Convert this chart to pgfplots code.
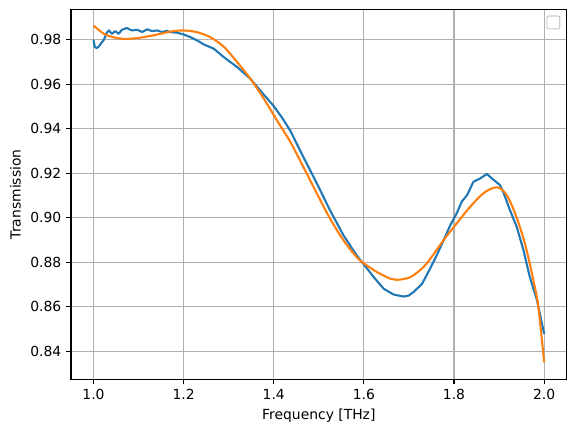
\documentclass[border=0pt]{standalone}
\usepackage{pgfplots}
\pgfplotsset{compat=1.18}
\usepackage{fontspec}
\setmainfont{DejaVu Sans}
\definecolor{C0}{HTML}{1F77B4}
\definecolor{C1}{HTML}{FF7F0E}
\definecolor{gridc}{HTML}{B0B0B0}
\begin{document}
\begin{tikzpicture}
\begin{axis}[
  scale only axis, width=356.9pt, height=266.4pt,
  at={(0,0)}, anchor=south west,
  xmin=0.95, xmax=2.05, ymin=0.8274, ymax=0.9937,
  xtick={1.0,1.2,1.4,1.6,1.8,2.0},
  ytick={0.84,0.86,0.88,0.90,0.92,0.94,0.96,0.98},
  xticklabel style={/pgf/number format/.cd,fixed,fixed zerofill,precision=1},
  yticklabel style={/pgf/number format/.cd,fixed,fixed zerofill,precision=2},
  /pgf/number format/assume math mode=true,
  tick label style={font=\fontsize{10}{12}\selectfont},
  label style={font=\fontsize{10}{12}\selectfont},
  xlabel={Frequency [THz]}, ylabel={Transmission},
  grid=major, major grid style={gridc, line width=0.8pt},
  axis line style={line width=0.8pt},
  tick style={black, line width=0.8pt},
  tick align=outside, major tick length=3.5pt,
  xtick pos=bottom, ytick pos=left,
  scaled ticks=false,
]
\addplot[C0, line width=1.5pt, line join=round] coordinates {
(1.000,0.9800)(1.003,0.9767)(1.007,0.9763)(1.012,0.9770)(1.016,0.9782)
(1.023,0.9800)(1.029,0.9830)(1.034,0.9842)(1.041,0.9827)(1.048,0.9839)
(1.056,0.9827)(1.063,0.9845)(1.074,0.9853)(1.085,0.9842)(1.097,0.9845)
(1.108,0.9835)(1.119,0.9847)(1.130,0.9839)(1.141,0.9842)(1.152,0.9835)
(1.163,0.9840)(1.171,0.9834)(1.185,0.9832)(1.200,0.9824)(1.215,0.9812)
(1.230,0.9797)(1.245,0.9779)(1.267,0.9760)(1.289,0.9722)(1.319,0.9677)
(1.348,0.9625)(1.370,0.9572)(1.400,0.9502)(1.420,0.9445)(1.437,0.9390)
(1.466,0.9272)(1.496,0.9153)(1.525,0.9033)(1.555,0.8920)(1.584,0.8831)
(1.600,0.8790)(1.622,0.8733)(1.644,0.8681)(1.666,0.8655)(1.688,0.8646)
(1.699,0.8650)(1.710,0.8666)(1.729,0.8703)(1.747,0.8772)(1.762,0.8833)
(1.777,0.8900)(1.792,0.8968)(1.806,0.9020)(1.817,0.9072)(1.829,0.9102)
(1.843,0.9162)(1.858,0.9177)(1.873,0.9197)(1.884,0.9177)(1.902,0.9147)
(1.909,0.9117)(1.924,0.9035)(1.939,0.8960)(1.954,0.8855)(1.968,0.8735)
(1.984,0.8630)(2.000,0.8478)
};
\addplot[C1, line width=1.5pt, smooth] coordinates {
(1.000,0.9864)(1.023,0.9827)(1.045,0.9811)(1.067,0.9804)(1.090,0.9806)
(1.112,0.9812)(1.149,0.9827)(1.171,0.9837)(1.200,0.9842)(1.230,0.9834)
(1.259,0.9812)(1.289,0.9769)(1.319,0.9699)(1.348,0.9625)(1.378,0.9535)
(1.407,0.9438)(1.437,0.9340)(1.466,0.9227)(1.496,0.9108)(1.525,0.8996)
(1.555,0.8898)(1.584,0.8823)(1.600,0.8795)(1.629,0.8756)(1.659,0.8726)
(1.673,0.8721)(1.703,0.8733)(1.732,0.8778)(1.747,0.8815)(1.777,0.8900)
(1.806,0.8975)(1.836,0.9050)(1.865,0.9110)(1.888,0.9135)(1.902,0.9133)
(1.917,0.9102)(1.931,0.9043)(1.946,0.8960)(1.961,0.8855)(1.976,0.8720)
(1.987,0.8600)(2.000,0.8350)
};
\draw[draw=black!20, fill=white, rounded corners=1.5pt, line width=0.8pt]
  (rel axis cs:0.960,0.947) rectangle (rel axis cs:0.986,0.982);
\end{axis}
\path[use as bounding box] (-51.1pt,-37.9pt) rectangle (363.6pt,273.1pt);
\end{tikzpicture}
\end{document}
